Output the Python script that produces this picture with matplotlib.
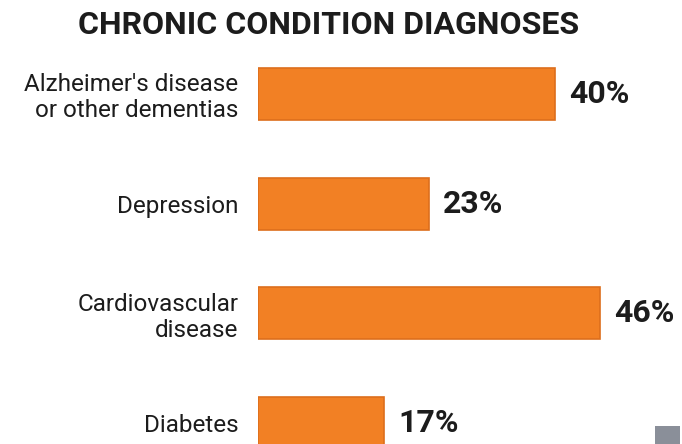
import matplotlib.pyplot as plt
from matplotlib.patches import Rectangle

plt.rcParams['font.family'] = ['Liberation Sans Narrow', 'Roboto', 'DejaVu Sans']

conditions = ["Alzheimer's disease\nor other dementias", "Depression",
              "Cardiovascular\ndisease", "Diabetes"]
shares = [40, 23, 46, 17]
value_labels = ["40%", "23%", "46%", "17%"]

orange = '#F28024'
edge = '#DD6E1C'
ink = '#1c1c1c'

W, H = 682, 444
fig = plt.figure(figsize=(W / 100, H / 100), dpi=100)

# axes placed in pixels: left edge of bars at x=258, top of axes at y=40
ax = fig.add_axes([258 / W, 0, (W - 258) / W, 404 / H])
ypos = list(range(len(conditions)))
ax.barh(ypos, shares, height=0.475, color=orange, edgecolor=edge, linewidth=1.2)
ax.set_xlim(0, 424 / 7.43)
ax.set_ylim(3.19, -0.492)

ax.set_yticks(ypos)
ax.set_yticklabels(conditions, fontsize=17.5, color=ink, linespacing=1.15, ha='right')
ax.tick_params(axis='y', length=0, pad=14)
ax.set_xticks([])
for s in ax.spines.values():
    s.set_visible(False)

for y, v, lab in zip(ypos, shares, value_labels):
    ax.annotate(lab, (v, y), xytext=(10, 0), textcoords='offset points',
                va='center', ha='left', fontsize=23, fontweight='bold', color=ink)

fig.text(78 / W, 1 - 25 / H, 'CHRONIC CONDITION DIAGNOSES', fontsize=23,
         fontweight='bold', color=ink, va='center', ha='left')

# small grey element cut off at the bottom-right corner
fig.patches.append(Rectangle((655 / W, 0), 25 / W, 18 / H, transform=fig.transFigure,
                             facecolor='#8a8f99', edgecolor='none'))

fig.savefig('out.png', dpi=100)
